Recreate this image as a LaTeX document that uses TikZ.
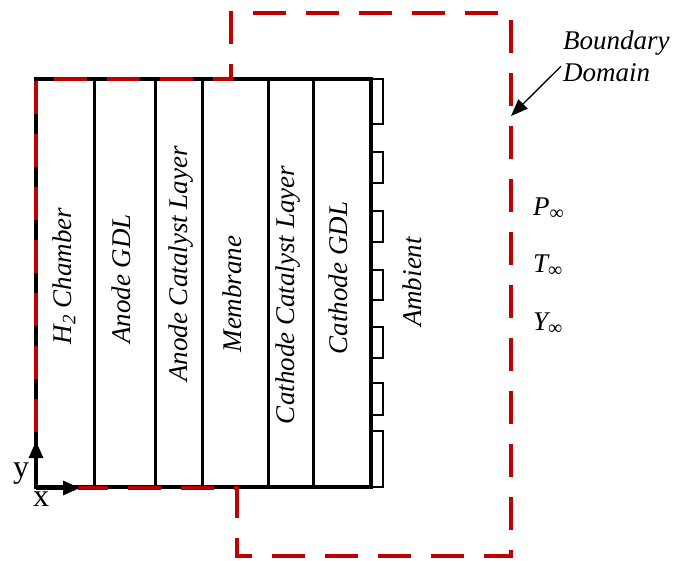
\documentclass[tikz,border=0pt]{standalone}
\usepackage{fontspec}
\setmainfont{Liberation Serif}
\usetikzlibrary{arrows.meta}
\definecolor{bred}{RGB}{192,0,0}
\begin{document}
\begin{tikzpicture}[x=1pt,y=-1pt,
  layer/.style={rotate=90, font=\fontsize{27}{30}\selectfont\itshape, inner sep=0pt},
  lbl/.style={font=\fontsize{27}{30}\selectfont\itshape, inner sep=0pt, anchor=base west},
  axl/.style={font=\fontsize{32}{34}\selectfont, inner sep=0pt},
  outer/.style={line width=3.4pt},
  inner/.style={line width=3pt},
  comb/.style={line width=2.8pt},
  bound/.style={draw=bred, line width=4.2pt, dash pattern=on 33pt off 20pt},
  axis/.style={line width=3.2pt, -{Triangle[length=17pt,width=14pt]}},
  pointer/.style={line width=1.3pt, -{Triangle[length=17pt,width=13pt]}}]
\useasboundingbox (0,0) rectangle (688,560);
% layers
\draw[outer] (36,79) rectangle (371,487);
\foreach \xx in {94,155,202,268,313} \draw[inner] (\xx,79) -- (\xx,487);
% comb on the ambient side
\foreach \ya/\yb in {79/124,152/183,211/242,270/300,327/358,383/415,431/487}
  \draw[comb] (371,\ya) rectangle (383,\yb);
% boundary domain
\draw[bound] (36,432) -- (36,79) -- (231,79) -- (231,13) -- (511,13) -- (511,556) -- (237,556) -- (237,488) -- (78,488);
% axes
\coordinate (O) at (36,488);
\coordinate (Ytip) at (36,441);
\coordinate (Xtip) at (80,488);
\draw[axis] (O) -- (Ytip);
\draw[axis] (O) -- (Xtip);
\node[axl] (ylab) at (21,474) {y};
\node[axl] (xlab) at (41,499) {x};
% layer labels
\node[layer] (h2) at (64,276) {H\textsubscript{2} Chamber};
\node[layer] (agdl) at (121,279) {Anode GDL};
\node[layer] (acl) at (181,264) {Anode Catalyst Layer};
\node[layer] (mem) at (232,294) {Membrane};
\node[layer] (ccl) at (288,295) {Cathode Catalyst Layer};
\node[layer] (cgdl) at (338,278) {Cathode GDL};
\node[layer] (amb) at (412,282) {Ambient};
% boundary label
\node[lbl] (bd1) at (563,49) {Boundary};
\node[lbl] (bd2) at (563,81) {Domain};
\coordinate (btip) at (511,116);
\draw[pointer] (bd2.west) ++(-2,-6) -- (btip);
% far-field values
\node[lbl] (pinf) at (533,215) {P\raisebox{-0.35ex}{\fontsize{20}{20}\selectfont\upshape ∞}};
\node[lbl] (tinf) at (533,272) {T\raisebox{-0.35ex}{\fontsize{20}{20}\selectfont\upshape ∞}};
\node[lbl] (yinf) at (533,330) {Y\raisebox{-0.35ex}{\fontsize{20}{20}\selectfont\upshape ∞}};
\end{tikzpicture}
\end{document}
